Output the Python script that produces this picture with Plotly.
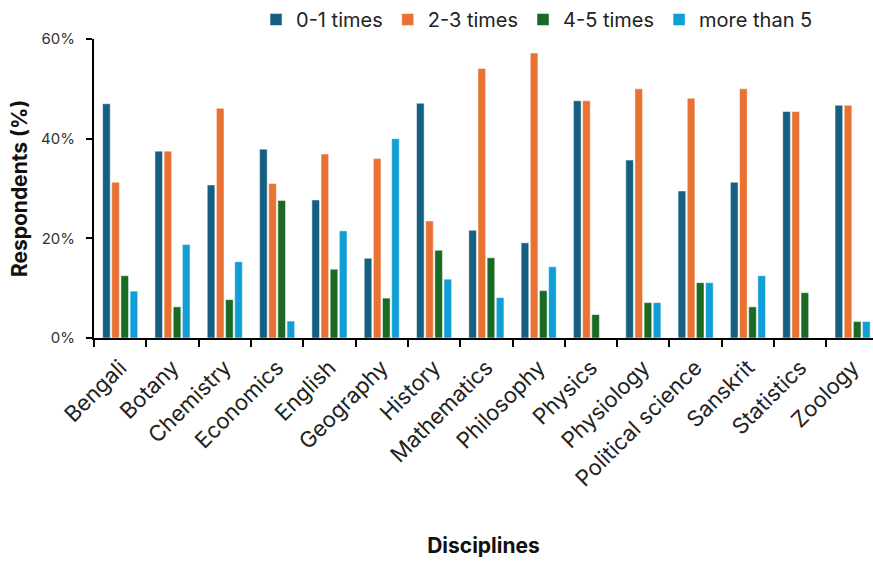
import plotly.graph_objects as go

categories = ["Bengali", "Botany", "Chemistry", "Economics", "English", "Geography",
              "History", "Mathematics", "Philosophy", "Physics", "Physiology",
              "Political science", "Sanskrit", "Statistics", "Zoology"]
series_names = ["0-1 times", "2-3 times", "4-5 times", "more than 5"]
times_0_1 = [47.0, 37.5, 30.7, 37.9, 27.7, 16.0, 47.1, 21.6, 19.1, 47.6, 35.7, 29.5, 31.25, 45.45, 46.7]
times_2_3 = [31.25, 37.5, 46.1, 31.0, 36.9, 36.0, 23.5, 54.1, 57.2, 47.6, 50.0, 48.1, 50.0, 45.45, 46.7]
times_4_5 = [12.5, 6.25, 7.7, 27.6, 13.8, 8.0, 17.6, 16.1, 9.5, 4.7, 7.1, 11.1, 6.25, 9.1, 3.3]
more_than_5 = [9.4, 18.75, 15.3, 3.4, 21.5, 40.0, 11.8, 8.1, 14.3, 0.0, 7.1, 11.1, 12.5, 0.0, 3.3]
y_ticks = [0, 20, 40, 60]
y_tick_labels = [f"{v}%" for v in y_ticks]

colors = ["#156082", "#E97132", "#196B24", "#0F9ED5"]
FONT = "Inter"

fig = go.Figure()
for name, vals, col in zip(series_names, [times_0_1, times_2_3, times_4_5, more_than_5], colors):
    fig.add_trace(go.Bar(x=categories, y=vals, name=name,
                         marker=dict(color=col, line=dict(color="rgba(255,255,255,0.6)", width=0.8))))

fig.update_layout(
    width=873, height=562,
    margin=dict(l=94, r=0, t=34, b=224),
    paper_bgcolor="white", plot_bgcolor="white",
    barmode="group", bargap=0.3, bargroupgap=0.17,
    font=dict(family=FONT, color="#222222"),
    showlegend=True,
    legend=dict(orientation="h", x=0.208, xanchor="left", y=1.0, yanchor="bottom",
                font=dict(size=20, family=FONT, color="#222222"),
                itemwidth=30, tracegroupgap=0, bgcolor="rgba(0,0,0,0)"),
    xaxis=dict(
        type="category", range=[-0.5, 14.39],
        showline=True, linecolor="black", linewidth=2,
        ticks="outside", tickson="boundaries", ticklen=7, tickwidth=2, tickcolor="black",
        tickangle=-45, ticklabelstandoff=6, tickfont=dict(size=22, family=FONT, color="#222222"),
        title=dict(text="<b>Disciplines</b>", font=dict(size=21, family=FONT, color="#111111"), standoff=48),
        showgrid=False, automargin=False,
    ),
    yaxis=dict(
        range=[0, 60], tickmode="array", tickvals=y_ticks, ticktext=y_tick_labels,
        showline=True, linecolor="black", linewidth=2,
        ticks="outside", ticklen=6, tickwidth=2, tickcolor="black", ticklabelstandoff=8,
        tickfont=dict(size=15, family=FONT, color="#333333"),
        title=dict(text="<b>Respondents (%)</b>", font=dict(size=21, family=FONT, color="#111111"), standoff=8),
        showgrid=False, zeroline=False, automargin=False,
    ),
)

fig.write_html("out.html", config={"displayModeBar": False},
               post_script="document.body.style.margin='0px';document.body.style.overflow='hidden';")
